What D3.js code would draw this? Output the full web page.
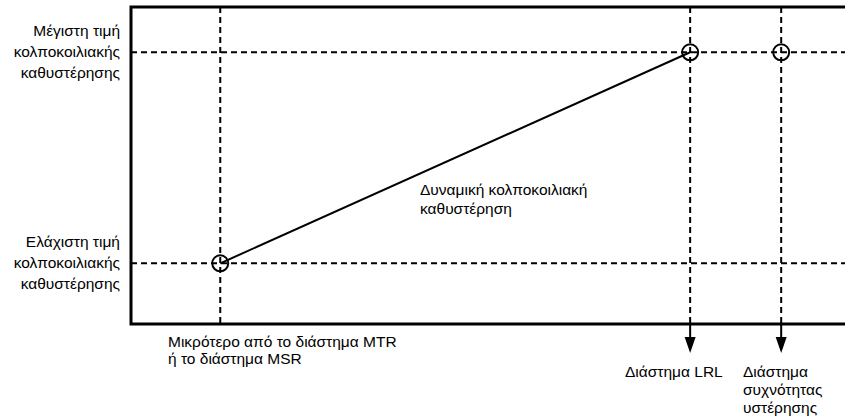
<!DOCTYPE html>
<html>
<head>
<meta charset="utf-8">
<title>Δυναμική κολποκοιλιακή καθυστέρηση</title>
<style>
  body { margin: 0; background: #fff; }
  svg text { font-family: "Liberation Sans", Arial, sans-serif; font-size: 15.5px; fill: #000; }
</style>
<script src="https://d3js.org/d3.v7.min.js"></script>
</head>
<body>
<script>
// intervals along x (schematic units), delay levels along y
var intervalNames = ["MTR/MSR", "LRL", "Hysteresis"];
var intervalValues = [200, 1253, 1457];
var delayNames = ["min", "max"];
var delayValues = [67, 300];

// text labels
var delayLabels = [
  ["Ελάχιστη τιμή", "κολποκοιλιακής", "καθυστέρησης"],
  ["Μέγιστη τιμή", "κολποκοιλιακής", "καθυστέρησης"]
];
var intervalLabels = [
  ["Μικρότερο από το διάστημα MTR", "ή το διάστημα MSR"],
  ["Διάστημα LRL"],
  ["Διάστημα", "συχνότητας", "υστέρησης"]
];
var curveLabel = ["Δυναμική κολποκοιλιακή", "καθυστέρηση"];

var W = 845, H = 417;
var frameLeft = 131, frameTop = 7, frameBottom = 324;

var svg = d3.select("body").append("svg")
    .attr("width", W).attr("height", H);

var x = d3.scaleLinear().domain([0, 1600]).range([frameLeft, W]);
var y = d3.scaleLinear().domain([0, 350]).range([frameBottom, frameTop]);

// dashed guides
svg.selectAll(".hguide")
  .data(delayValues)
  .enter().append("line")
    .attr("x1", frameLeft).attr("x2", W)
    .attr("y1", function(d) { return y(d); })
    .attr("y2", function(d) { return y(d); })
    .attr("stroke", "#000").attr("stroke-width", 2)
    .attr("stroke-dasharray", "6,4");

svg.selectAll(".vguide")
  .data(intervalValues)
  .enter().append("line")
    .attr("x1", function(d) { return x(d); })
    .attr("x2", function(d) { return x(d); })
    .attr("y1", frameTop).attr("y2", frameBottom)
    .attr("stroke", "#000").attr("stroke-width", 2)
    .attr("stroke-dasharray", "6,4");

// arrows below the frame for LRL and hysteresis
var arrows = svg.selectAll(".arrow")
  .data(intervalValues.slice(1))
  .enter().append("g");
arrows.append("line")
    .attr("x1", function(d) { return x(d); })
    .attr("x2", function(d) { return x(d); })
    .attr("y1", frameBottom).attr("y2", frameBottom + 16)
    .attr("stroke", "#000").attr("stroke-width", 2);
arrows.append("path")
    .attr("d", function(d) {
      var cx = x(d);
      return "M" + (cx - 5.5) + "," + (frameBottom + 13) + "L" + (cx + 5.5) + "," + (frameBottom + 13) +
             "L" + cx + "," + (frameBottom + 29) + "Z";
    })
    .attr("fill", "#000");

// frame (open on the right)
svg.append("path")
    .attr("d", "M" + W + "," + frameTop + "H" + frameLeft + "V" + frameBottom + "H" + W)
    .attr("fill", "none").attr("stroke", "#000").attr("stroke-width", 3);

// dynamic AV delay line
var pts = [[intervalValues[0], delayValues[0]], [intervalValues[1], delayValues[1]]];
svg.append("path")
    .datum(pts)
    .attr("d", d3.line().x(function(d) { return x(d[0]); }).y(function(d) { return y(d[1]); }))
    .attr("fill", "none").attr("stroke", "#000").attr("stroke-width", 2);

// circles
var circ = [[intervalValues[0], delayValues[0]], [intervalValues[1], delayValues[1]], [intervalValues[2], delayValues[1]]];
svg.selectAll(".pt")
  .data(circ)
  .enter().append("circle")
    .attr("cx", function(d) { return x(d[0]); })
    .attr("cy", function(d) { return y(d[1]); })
    .attr("r", 8)
    .attr("fill", "none").attr("stroke", "#000").attr("stroke-width", 2);

// y labels
delayValues.forEach(function(v, i) {
  var t = svg.append("text").attr("text-anchor", "end");
  delayLabels[i].forEach(function(s, j) {
    t.append("tspan").attr("x", frameLeft - 11).attr("y", y(v) + 5 + (j - 1) * 21).text(s);
  });
});

// x labels
var xLabelPos = [[168, 347], [625, 377], [743, 377]];
var xLabelGap = [17, 18, 18];
intervalLabels.forEach(function(lines, i) {
  var t = svg.append("text");
  lines.forEach(function(s, j) {
    t.append("tspan").attr("x", xLabelPos[i][0]).attr("y", xLabelPos[i][1] + j * xLabelGap[i]).text(s);
  });
});

// curve label
var ct = svg.append("text");
curveLabel.forEach(function(s, j) {
  ct.append("tspan").attr("x", 420).attr("y", 195 + j * 19).text(s);
});
</script>
</body>
</html>
